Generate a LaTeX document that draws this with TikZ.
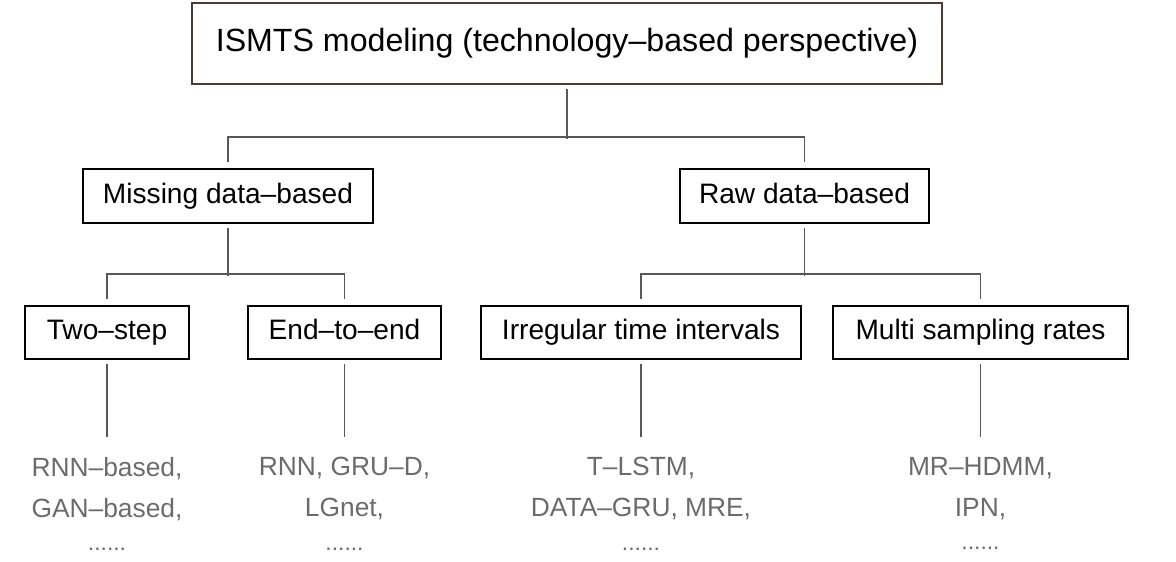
\documentclass[tikz,border=0pt]{standalone}
\usepackage{fontspec}
\setmainfont{Liberation Sans}
\usetikzlibrary{calc}
\definecolor{linkgray}{HTML}{585858}
\definecolor{leafgray}{HTML}{6B6B6B}
\definecolor{rootbrown}{HTML}{4A3B33}

\begin{document}
\begin{tikzpicture}[x=0.02cm, y=-0.02cm]
        % basic settings (1 unit = 1 pixel of the figure)
        \def\rowA{196}   % level 2
        \def\rowB{332.5} % level 3
        \useasboundingbox (0,0) rectangle (1176,561);

        \tikzstyle{catbox} = [draw=black, line width=1.1pt, inner sep=0pt, minimum height=1.07cm, text height=11.6pt, text depth=3.4pt, font=\fontsize{16}{19}\selectfont]
        \tikzstyle{link} = [draw=linkgray, line width=1.1pt]
        \tikzstyle{leaf} = [anchor=north, inner sep=0pt, align=center, text=leafgray, font=\fontsize{15}{23.2}\selectfont]
        \def\dots{\\[-4pt]{\fontsize{13}{13}\selectfont ......}}

        % 1. root box
        \node[catbox, draw=rootbrown, minimum width=15cm, minimum height=1.62cm, text height=13.3pt, text depth=3.9pt, font=\fontsize{18.3}{22}\selectfont] (root) at (567,43.5) {ISMTS modeling (technology–based perspective)};

        % 2. second level
        \node[catbox, minimum width=5.8cm] (miss) at (228,\rowA) {Missing data–based};
        \node[catbox, minimum width=4.98cm] (raw) at (804.5,\rowA) {Raw data–based};

        % 3. third level
        \node[catbox, minimum width=3.28cm] (two) at (107,\rowB) {Two–step};
        \node[catbox, minimum width=3.86cm] (e2e) at (344.5,\rowB) {End–to–end};
        \node[catbox, minimum width=6.4cm] (irr) at (641,\rowB) {Irregular time intervals};
        \node[catbox, minimum width=5.9cm] (msr) at (980.5,\rowB) {Multi sampling rates};

        % 4. methods under each box
        \node[leaf] (twol) at (107,457) {RNN–based,\\GAN–based,\dots};
        \node[leaf] (e2el) at (344.5,457) {RNN, GRU–D,\\LGnet,\dots};
        \node[leaf] (irrl) at (641,457) {T–LSTM,\\DATA–GRU, MRE,\dots};
        \node[leaf] (msrl) at (980.5,457) {MR–HDMM,\\IPN,\dots};

        % 5. connectors
        \draw[link] ($(root.south)+(0,4)$) -- ($(root.south)+(0,54)$);
        \draw[link] ($(miss.north)+(0,-6)$) -- ++(0,-25) -| ($(raw.north)+(0,-6)$);

        \draw[link] ($(miss.south)+(0,4)$) -- ($(miss.south)+(0,52)$);
        \draw[link] ($(two.north)+(0,-6)$) -- ++(0,-25) -| ($(e2e.north)+(0,-6)$);
        \draw[link] ($(raw.south)+(0,4)$) -- ($(raw.south)+(0,52)$);
        \draw[link] ($(irr.north)+(0,-6)$) -- ++(0,-25) -| ($(msr.north)+(0,-6)$);

        \foreach \b in {two, e2e, irr, msr}
            \draw[link] ($(\b.south)+(0,4)$) -- ($(\b l.north)+(0,-20)$);

    \end{tikzpicture}
\end{document}
